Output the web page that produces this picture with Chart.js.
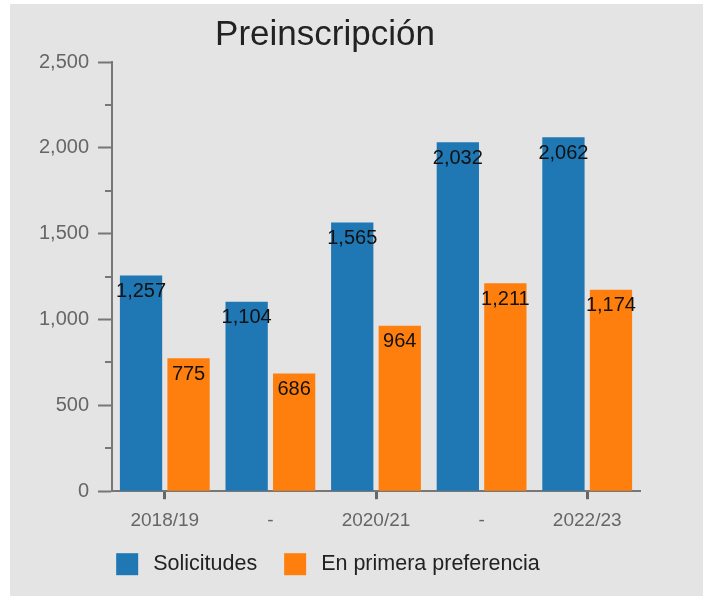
<!DOCTYPE html>
<html>
<head>
<meta charset="utf-8">
<script src="https://cdn.jsdelivr.net/npm/chart.js@4/dist/chart.umd.min.js"></script>
<style>
  html, body { margin: 0; padding: 0; background: #ffffff; width: 703px; height: 596px; overflow: hidden; }
  #panel { position: absolute; left: 10px; top: 4px; width: 693px; height: 592px; background: #e4e4e4; }
  #wrap { position: absolute; left: 0; top: 0; width: 636px; height: 592px; }
</style>
</head>
<body>
<div id="panel"><div id="wrap"><canvas id="c"></canvas></div></div>
<script>
const categories = ['2018/19', '2019/20', '2020/21', '2021/22', '2022/23'];
const tickLabels = ['2018/19', '-', '2020/21', '-', '2022/23'];
const solicitudes = [1257, 1104, 1565, 2032, 2062];
const primeraPreferencia = [775, 686, 964, 1211, 1174];
const yMax = 2500;
const yStep = 500;
const yMinorTicks = [250, 750, 1250, 1750, 2250];
const seriesNames = ['Solicitudes', 'En primera preferencia'];
const seriesColors = ['#1f77b4', '#ff7f0e'];
const titleText = 'Preinscripción';

const FONT = "'Liberation Sans', Arial, sans-serif";
const fmt = v => v.toLocaleString('en-US');

const extrasPlugin = {
  id: 'extras',
  afterDatasetsDraw(chart) {
    const ctx = chart.ctx;
    ctx.save();
    ctx.font = "20px " + FONT;
    ctx.fillStyle = '#111';
    ctx.textAlign = 'center';
    ctx.textBaseline = 'middle';
    chart.data.datasets.forEach((ds, di) => {
      const meta = chart.getDatasetMeta(di);
      meta.data.forEach((bar, i) => {
        ctx.fillText(fmt(ds.data[i]), bar.x, bar.y + 16);
      });
    });
    ctx.restore();
  },
  afterDraw(chart) {
    const y = chart.scales.y;
    const ctx = chart.ctx;
    ctx.save();
    ctx.strokeStyle = '#777';
    ctx.lineWidth = 2;
    yMinorTicks.forEach(v => {
      const py = Math.round(y.getPixelForValue(v));
      ctx.beginPath();
      ctx.moveTo(y.right - 7, py);
      ctx.lineTo(y.right, py);
      ctx.stroke();
    });
    // legend
    const box = 22, gapText = 15, gapItem = 27;
    ctx.font = "21.5px " + FONT;
    ctx.textBaseline = 'middle';
    ctx.textAlign = 'left';
    const items = chart.data.datasets.map(ds => ({ text: ds.label, color: ds.backgroundColor, w: ctx.measureText(ds.label).width }));
    let total = 0;
    items.forEach((it, i) => { total += box + gapText + it.w + (i < items.length - 1 ? gapItem : 0); });
    let x = chart.width / 2 - total / 2;
    const cy = chart.chartArea.bottom + 73;
    items.forEach(it => {
      ctx.fillStyle = it.color;
      ctx.fillRect(x, cy - box / 2, box, box);
      ctx.fillStyle = '#222';
      ctx.fillText(it.text, x + box + gapText, cy);
      x += box + gapText + it.w + gapItem;
    });
    ctx.restore();
  }
};

new Chart(document.getElementById('c'), {
  type: 'bar',
  data: {
    labels: categories,
    datasets: [
      { label: seriesNames[0], data: solicitudes, backgroundColor: seriesColors[0] },
      { label: seriesNames[1], data: primeraPreferencia, backgroundColor: seriesColors[1] }
    ]
  },
  options: {
    responsive: true,
    maintainAspectRatio: false,
    animation: false,
    layout: { padding: { top: 0, right: 6, bottom: 54, left: 0 } },
    datasets: { bar: { categoryPercentage: 0.9, barPercentage: 0.89 } },
    plugins: {
      title: {
        display: true,
        text: titleText,
        color: '#222',
        font: { family: FONT, size: 35, weight: 'normal' },
        padding: { top: 10, bottom: 6 }
      },
      legend: { display: false },
      tooltip: { enabled: false }
    },
    scales: {
      x: {
        offset: true,
        border: { color: '#777', width: 2 },
        grid: {
          offset: false,
          drawOnChartArea: false,
          tickLength: 8,
          tickWidth: 3,
          tickColor: c => (tickLabels[c.index] === '-' ? 'rgba(0,0,0,0)' : '#666')
        },
        ticks: {
          color: '#666',
          font: { family: FONT, size: 19 },
          padding: 10,
          maxRotation: 0,
          autoSkip: false,
          callback: (v, i) => tickLabels[i]
        }
      },
      y: {
        min: 0,
        max: yMax,
        afterFit: s => { s.width = 102; },
        border: { color: '#777', width: 2 },
        grid: { drawOnChartArea: false, tickLength: 14, tickWidth: 2, tickColor: '#777' },
        ticks: {
          stepSize: yStep,
          color: '#666',
          font: { family: FONT, size: 20 },
          padding: 9,
          callback: v => fmt(v)
        }
      }
    }
  },
  plugins: [extrasPlugin]
});
</script>
</body>
</html>
